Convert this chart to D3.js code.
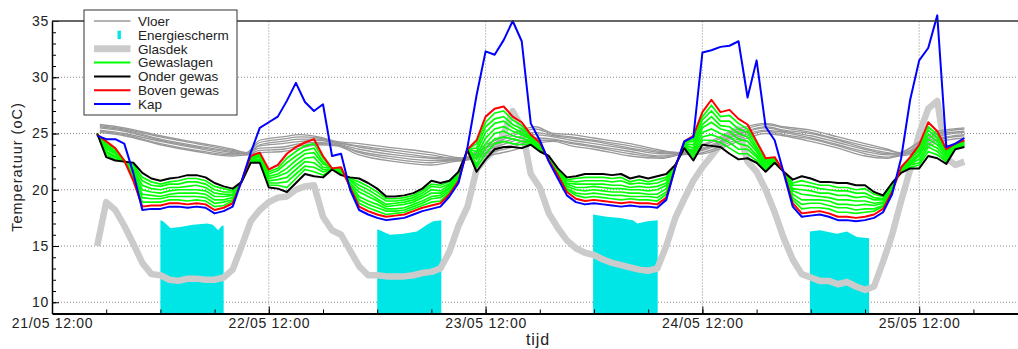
<!doctype html>
<html lang="nl">
<head>
<meta charset="utf-8">
<style>
  body { margin: 0; background: white; }
  svg { display: block; font-family: "Liberation Sans", Arial, sans-serif; }
  .grid line { stroke: #8a8a8a; stroke-width: 1px; stroke-dasharray: 1,2; }
  .tick text { fill: #222; }
</style>
</head>
<body>
<script src="https://d3js.org/d3.v7.min.js"></script>
<script>
// uren na 21/05 12:00, een meting per uur
var uren = d3.range(5, 102);

var onderGewas = [25.0,22.9,22.6,22.5,22.4,21.5,21.0,20.8,21.0,21.1,
  21.3,21.3,21.1,20.6,20.3,20.1,20.7,22.4,22.4,20.2,
  20.1,19.8,20.6,21.4,21.2,21.1,21.8,21.3,21.1,21.0,
  20.6,20.1,19.4,19.4,19.5,19.7,20.1,20.8,20.6,20.8,
  21.6,23.5,21.6,22.7,23.6,23.8,23.8,23.7,24.0,23.4,
  23.0,21.9,21.1,21.2,21.4,21.4,21.4,21.3,21.4,21.0,
  21.2,21.0,21.2,21.4,22.2,23.7,22.6,24.0,23.9,23.8,
  23.2,22.7,22.8,22.4,21.6,22.4,21.6,20.9,21.2,21.0,
  20.7,20.7,20.6,20.6,20.4,20.4,19.8,19.5,20.6,21.5,
  21.9,21.9,23.0,22.8,22.3,23.6,23.8];

var bovenGewas = [24.9,24.3,23.7,22.6,20.8,18.5,18.6,18.6,18.8,18.8,
  18.7,18.8,18.7,18.2,18.4,18.8,20.8,23.0,23.3,21.8,
  22.2,23.2,23.8,24.2,24.5,23.0,21.9,22.0,20.2,18.5,
  18.1,17.8,17.6,17.7,17.8,18.1,18.4,18.6,18.8,19.6,
  20.8,23.6,24.4,26.5,27.2,27.4,26.5,26.0,24.9,24.2,
  22.6,21.3,19.8,19.2,19.0,19.1,19.0,18.9,18.8,18.9,
  18.8,18.8,18.7,19.3,22.0,24.3,24.8,26.9,28.0,26.9,
  27.1,26.3,25.8,24.3,22.8,22.9,21.6,18.8,17.9,18.0,
  18.1,17.9,17.6,17.6,17.5,17.6,17.8,18.3,19.8,22.0,
  22.9,24.0,26.0,25.2,23.6,24.1,24.4];

var kap = [24.8,24.5,24.5,24.1,21.5,18.2,18.3,18.3,18.5,18.5,
  18.4,18.5,18.4,17.9,18.1,18.5,20.8,23.3,25.5,26.0,
  26.5,27.9,29.5,27.8,27.0,27.6,23.0,23.2,20.0,18.2,
  17.8,17.5,17.3,17.4,17.5,17.8,18.1,18.3,18.5,19.4,
  20.6,23.8,28.4,32.3,32.0,33.3,35.0,33.2,25.9,24.4,
  22.5,21.0,19.5,18.9,18.7,18.8,18.7,18.6,18.5,18.6,
  18.5,18.5,18.4,19.1,22.0,24.3,24.7,32.2,32.4,32.7,
  32.8,33.2,28.2,31.5,25.6,24.4,21.5,18.5,17.6,17.7,
  17.8,17.6,17.3,17.3,17.2,17.3,17.5,18.0,19.6,22.8,
  28.0,31.5,32.6,35.5,23.8,24.1,24.6];

var glasdek = [15.0,18.9,18.2,16.8,15.2,13.5,12.5,12.4,12.0,11.9,
  12.1,12.1,12.0,12.0,12.2,12.9,15.0,17.2,18.2,18.9,
  19.3,19.4,20.0,20.3,20.4,17.6,16.4,16.0,14.6,13.2,
  12.4,12.4,12.3,12.3,12.3,12.4,12.6,12.7,13.0,14.5,
  16.8,18.5,21.8,22.8,23.5,25.0,27.0,25.5,21.4,20.2,
  17.9,16.6,15.5,14.8,14.4,14.2,13.8,13.5,13.3,13.1,
  12.9,12.8,13.0,15.0,17.5,19.2,20.8,22.0,23.0,24.0,
  25.0,25.4,22.5,21.6,20.0,18.0,15.7,13.8,12.5,12.2,
  11.9,11.9,11.6,11.8,11.4,11.1,11.4,13.6,16.0,19.0,
  21.8,25.0,27.2,27.9,22.8,22.2,22.5];

// gewaslagen, van onder naar boven
var gewas1 = [25.0,23.1,22.7,22.5,22.2,21.1,20.7,20.5,20.7,20.8,
  21.0,21.0,20.8,20.3,20.1,19.9,20.7,22.5,22.5,20.4,
  20.4,20.2,21.0,21.8,21.6,21.3,21.8,21.4,21.0,20.7,
  20.3,19.8,19.2,19.2,19.3,19.5,19.9,20.5,20.4,20.7,
  21.5,23.5,22.0,23.2,24.1,24.3,24.1,24.0,24.1,23.5,
  23.0,21.8,20.9,21.0,21.1,21.1,21.1,21.0,21.1,20.7,
  20.9,20.7,20.9,21.1,22.2,23.8,22.9,24.4,24.4,24.2,
  23.7,23.2,23.2,22.6,21.8,22.5,21.6,20.6,20.8,20.6,
  20.4,20.4,20.2,20.2,20.0,20.1,19.6,19.4,20.5,21.6,
  22.0,22.2,23.4,23.1,22.5,23.7,23.9];
var gewas2 = [25.0,23.3,22.9,22.5,22.0,20.8,20.4,20.3,20.5,20.5,
  20.7,20.7,20.5,20.0,19.8,19.8,20.7,22.6,22.6,20.6,
  20.6,20.7,21.4,22.1,22.0,21.6,21.8,21.5,20.9,20.4,
  20.0,19.5,19.0,19.0,19.1,19.3,19.7,20.3,20.2,20.5,
  21.4,23.5,22.3,23.7,24.5,24.7,24.5,24.3,24.2,23.6,
  22.9,21.8,20.8,20.7,20.8,20.8,20.8,20.7,20.8,20.5,
  20.6,20.5,20.6,20.9,22.2,23.9,23.2,24.7,24.9,24.6,
  24.2,23.6,23.6,22.9,21.9,22.5,21.6,20.4,20.4,20.3,
  20.1,20.0,19.9,19.9,19.7,19.7,19.3,19.2,20.4,21.6,
  22.2,22.4,23.8,23.4,22.6,23.7,24.0];
var gewas3 = [25.0,23.4,23.0,22.5,21.8,20.4,20.1,20.0,20.2,20.2,
  20.3,20.4,20.2,19.7,19.6,19.6,20.7,22.6,22.7,20.8,
  20.9,21.1,21.8,22.5,22.4,21.8,21.8,21.6,20.8,20.1,
  19.7,19.2,18.7,18.8,18.9,19.1,19.5,20.0,19.9,20.4,
  21.3,23.5,22.7,24.1,25.0,25.2,24.8,24.6,24.3,23.7,
  22.9,21.7,20.6,20.5,20.5,20.5,20.5,20.4,20.4,20.2,
  20.3,20.2,20.3,20.6,22.1,23.9,23.4,25.1,25.4,25.0,
  24.7,24.1,23.9,23.1,22.1,22.6,21.6,20.1,20.0,19.9,
  19.7,19.7,19.5,19.5,19.3,19.4,19.1,19.1,20.3,21.7,
  22.3,22.7,24.1,23.7,22.8,23.8,24.0];
var gewas4 = [25.0,23.6,23.2,22.6,21.6,20.0,19.8,19.7,19.9,20.0,
  20.0,20.0,19.9,19.4,19.4,19.5,20.8,22.7,22.9,21.0,
  21.2,21.5,22.2,22.8,22.9,22.0,21.9,21.6,20.6,19.8,
  19.4,19.0,18.5,18.6,18.7,18.9,19.3,19.7,19.7,20.2,
  21.2,23.6,23.0,24.6,25.4,25.6,25.2,24.9,24.5,23.8,
  22.8,21.6,20.5,20.2,20.2,20.3,20.2,20.1,20.1,20.0,
  20.0,19.9,20.0,20.4,22.1,24.0,23.7,25.5,26.0,25.4,
  25.2,24.5,24.3,23.4,22.2,22.7,21.6,19.9,19.6,19.5,
  19.4,19.3,19.1,19.1,19.0,19.0,18.8,18.9,20.2,21.8,
  22.4,23.0,24.5,24.0,23.0,23.9,24.1];
var gewas5 = [24.9,23.8,23.3,22.6,21.4,19.6,19.5,19.4,19.6,19.7,
  19.7,19.7,19.6,19.1,19.1,19.3,20.8,22.8,23.0,21.2,
  21.4,21.9,22.6,23.2,23.3,22.3,21.9,21.7,20.5,19.4,
  19.0,18.7,18.3,18.3,18.4,18.7,19.0,19.4,19.5,20.1,
  21.1,23.6,23.4,25.1,25.9,26.1,25.5,25.1,24.6,23.9,
  22.8,21.5,20.3,20.0,19.9,20.0,19.9,19.8,19.8,19.7,
  19.7,19.6,19.6,20.1,22.1,24.1,24.0,25.8,26.5,25.7,
  25.6,25.0,24.7,23.6,22.4,22.7,21.6,19.6,19.1,19.1,
  19.1,19.0,18.7,18.7,18.6,18.7,18.6,18.8,20.1,21.8,
  22.5,23.2,24.9,24.3,23.1,23.9,24.2];
var gewas6 = [24.9,24.0,23.4,22.6,21.2,19.3,19.2,19.2,19.4,19.4,
  19.4,19.4,19.3,18.8,18.9,19.1,20.8,22.9,23.1,21.4,
  21.7,22.4,23.0,23.5,23.7,22.5,21.9,21.8,20.4,19.1,
  18.7,18.4,18.1,18.1,18.2,18.5,18.8,19.2,19.3,19.9,
  21.0,23.6,23.7,25.6,26.3,26.5,25.8,25.4,24.7,24.0,
  22.7,21.5,20.1,19.7,19.6,19.7,19.6,19.5,19.5,19.4,
  19.4,19.4,19.3,19.8,22.1,24.2,24.3,26.2,27.0,26.1,
  26.1,25.4,25.1,23.8,22.5,22.8,21.6,19.3,18.7,18.8,
  18.8,18.6,18.4,18.4,18.2,18.3,18.3,18.6,20.0,21.9,
  22.7,23.5,25.3,24.6,23.3,24.0,24.3];
var gewas7 = [24.9,24.1,23.6,22.6,21.0,18.9,18.9,18.9,19.1,19.1,
  19.0,19.1,19.0,18.5,18.6,19.0,20.8,22.9,23.2,21.6,
  21.9,22.8,23.4,23.9,24.1,22.8,21.9,21.9,20.3,18.8,
  18.4,18.1,17.8,17.9,18.0,18.3,18.6,18.9,19.0,19.8,
  20.9,23.6,24.1,26.0,26.8,27.0,26.2,25.7,24.8,24.1,
  22.7,21.4,20.0,19.5,19.3,19.4,19.3,19.2,19.1,19.2,
  19.1,19.1,19.0,19.6,22.0,24.2,24.5,26.5,27.5,26.5,
  26.6,25.9,25.4,24.1,22.7,22.8,21.6,19.1,18.3,18.4,
  18.4,18.3,18.0,18.0,17.9,18.0,18.1,18.5,19.9,21.9,
  22.8,23.7,25.6,24.9,23.4,24.0,24.3];

// vloerlagen, eigen meetmomenten (uren na 21/05 12:00)
var vloerUur = [5.3,8,12,16,20,21.5,23,25.5,27.5,29.5,31.5,34,38,42,44.5,45.5,48,51,53.5,
  55.5,57.5,60,64,67.5,69.5,72,76,79,81,84,87,90,92.5,93.8,95.5,98,101];
var vloer1 = [25.1,24.8,24.0,23.4,23.0,23.1,23.3,23.4,23.7,24.0,23.9,23.1,22.5,22.2,22.5,22.6,23.0,23.5,24.1,24.3,23.9,23.6,23.0,22.8,23.1,23.2,24.3,25.0,24.8,24.3,23.7,23.0,22.8,23.0,23.2,24.2,24.6];
var vloer2 = [25.2,24.9,24.1,23.5,23.1,23.1,23.5,23.6,23.9,24.1,24.0,23.3,22.7,22.4,22.6,22.6,23.2,23.8,24.4,24.4,24.1,23.8,23.2,22.9,23.1,23.3,24.5,25.2,24.9,24.5,23.9,23.2,22.9,23.1,23.3,24.4,24.8];
var vloer3 = [25.3,25.0,24.3,23.7,23.2,23.2,23.7,23.8,24.1,24.2,24.0,23.4,22.9,22.6,22.6,22.7,23.3,24.0,24.6,24.5,24.2,23.9,23.4,23.0,23.2,23.5,24.7,25.3,25.1,24.6,24.0,23.4,23.1,23.1,23.5,24.5,24.9];
var vloer4 = [25.5,25.2,24.4,23.8,23.3,23.2,23.9,24.1,24.3,24.4,24.1,23.6,23.1,22.8,22.7,22.7,23.5,24.3,24.9,24.7,24.4,24.1,23.6,23.2,23.2,23.6,24.9,25.5,25.2,24.8,24.2,23.6,23.2,23.2,23.6,24.7,25.1];
var vloer5 = [25.6,25.3,24.5,23.9,23.4,23.2,24.0,24.3,24.5,24.5,24.2,23.8,23.3,22.9,22.8,22.7,23.7,24.5,25.1,24.8,24.6,24.3,23.7,23.3,23.2,23.7,25.0,25.6,25.3,25.0,24.4,23.7,23.3,23.2,23.7,24.9,25.2];
var vloer6 = [25.7,25.4,24.7,24.1,23.5,23.3,24.2,24.5,24.7,24.6,24.2,23.9,23.5,23.1,22.8,22.8,23.8,24.8,25.4,24.9,24.7,24.4,23.9,23.4,23.3,23.9,25.2,25.8,25.5,25.1,24.5,23.9,23.5,23.3,23.9,25.0,25.4];
var vloer7 = [25.8,25.5,24.8,24.2,23.6,23.3,24.4,24.7,24.9,24.7,24.3,24.1,23.7,23.3,22.9,22.8,24.0,25.0,25.6,25.0,24.9,24.6,24.1,23.5,23.3,24.0,25.4,25.9,25.6,25.3,24.7,24.1,23.6,23.3,24.0,25.2,25.5];

// energiescherm dicht: begin/eind van elk blok en de hoogte van de vlakken
var scherm1Uur = [12.0,12.3,13.1,14.2,15.6,17.2,17.8,18.4,18.8,19.0];
var scherm1 = [17.3,17.2,16.6,16.7,16.9,17.0,16.9,16.4,16.8,16.8];
var scherm2Uur = [36.0,36.6,37.4,38.9,40.4,41.5,42.2,43.1];
var scherm2 = [16.5,16.3,16.0,16.1,16.3,16.9,17.2,17.3];
var scherm3Uur = [59.9,61.4,62.9,64.3,64.8,65.9,67.05];
var scherm3 = [17.8,17.6,17.5,17.3,17.0,17.2,17.3];
var scherm4Uur = [83.9,85.0,86.9,88.0,89.1,90.45];
var scherm4 = [16.3,16.4,16.1,16.3,15.8,15.7];

var tijdLabels = ["21/05 12:00", "22/05 12:00", "23/05 12:00", "24/05 12:00", "25/05 12:00"];
var yTicks = [10, 15, 20, 25, 30, 35];
var legendNamen = ["Vloer", "Energiescherm", "Glasdek", "Gewaslagen", "Onder gewas", "Boven gewas", "Kap"];

var width = 1018, height = 349;
var parse = d3.timeParse("%d/%m %H:%M");
var start = parse("21/05 12:00");
var einde = parse("26/05 00:00");
function tijd(h) { return new Date(+start + h * 36e5); }

var x = d3.scaleTime().domain([start, einde]).range([52, 1027.6]);
var y = d3.scaleLinear().domain([9, 35]).range([313.5, 21]);

var svg = d3.select("body").append("svg")
  .attr("width", width)
  .attr("height", height);

// grid
var grid = svg.append("g").attr("class", "grid");
grid.selectAll(".h").data([10, 15, 20, 25, 30]).enter().append("line")
  .attr("x1", 52).attr("x2", 1027.6)
  .attr("y1", function(d) { return y(d); }).attr("y2", function(d) { return y(d); });
grid.selectAll(".v").data(tijdLabels.slice(1)).enter().append("line")
  .attr("x1", function(d) { return x(parse(d)); }).attr("x2", function(d) { return x(parse(d)); })
  .attr("y1", y(9)).attr("y2", y(35));

function lijn(uurArr) {
  return d3.line()
    .x(function(d, i) { return x(tijd(uurArr[i])); })
    .y(function(d) { return y(d); });
}

// energiescherm
var blokken = [[scherm1Uur, scherm1], [scherm2Uur, scherm2], [scherm3Uur, scherm3], [scherm4Uur, scherm4]];
blokken.forEach(function(b) {
  var area = d3.area()
    .x(function(d, i) { return x(tijd(b[0][i])); })
    .y0(y(9))
    .y1(function(d) { return y(d); });
  svg.append("path").attr("d", area(b[1])).attr("fill", "#00e6e6");
});

// glasdek
svg.append("path").attr("d", lijn(uren)(glasdek))
  .attr("fill", "none").attr("stroke", "#cbcbcb").attr("stroke-width", 6.5)
  .attr("stroke-linejoin", "round");

// vloer
var vloerLijn = lijn(vloerUur).curve(d3.curveMonotoneX);
[vloer1, vloer2, vloer3, vloer4, vloer5, vloer6, vloer7].forEach(function(s) {
  svg.append("path").attr("d", vloerLijn(s))
    .attr("fill", "none").attr("stroke", "#999").attr("stroke-width", 1.3);
});

// gewaslagen
[gewas1, gewas2, gewas3, gewas4, gewas5, gewas6, gewas7].forEach(function(s) {
  svg.append("path").attr("d", lijn(uren)(s))
    .attr("fill", "none").attr("stroke", "#00ff00").attr("stroke-width", 1.7);
});

[[onderGewas, "#000"], [bovenGewas, "#ff0000"], [kap, "#0000ff"]].forEach(function(s) {
  svg.append("path").attr("d", lijn(uren)(s[0]))
    .attr("fill", "none").attr("stroke", s[1]).attr("stroke-width", 2)
    .attr("stroke-linejoin", "round");
});

// assen
var xMinor = svg.append("g").attr("transform", "translate(0," + y(9) + ")")
  .call(d3.axisBottom(x).ticks(d3.timeHour.every(6)).tickSize(-4).tickSizeOuter(0).tickFormat(""));
xMinor.select(".domain").remove();

var xAxis = svg.append("g").attr("transform", "translate(0," + y(9) + ")")
  .call(d3.axisBottom(x).tickValues(tijdLabels.map(parse)).tickSize(-7).tickSizeOuter(0)
    .tickPadding(5).tickFormat(d3.timeFormat("%d/%m %H:%M")));
xAxis.select(".domain").attr("stroke-width", 2);
xAxis.selectAll("text").attr("font-size", 14).style("letter-spacing", "0.7px")
  .attr("font-family", "Liberation Sans, Arial, sans-serif");

var yMinor = svg.append("g").attr("transform", "translate(52,0)")
  .call(d3.axisLeft(y).tickValues(d3.range(10, 36)).tickSize(-4).tickSizeOuter(0).tickFormat(""));
yMinor.select(".domain").remove();

var yAxis = svg.append("g").attr("transform", "translate(52,0)")
  .call(d3.axisLeft(y).tickValues(yTicks).tickSize(-7).tickSizeOuter(0).tickPadding(3));
yAxis.select(".domain").attr("stroke-width", 1.5);
yAxis.selectAll("text").attr("font-size", 14).style("letter-spacing", "0.7px")
  .attr("font-family", "Liberation Sans, Arial, sans-serif");

// bovenrand
svg.append("line").attr("x1", 52).attr("x2", 1027.6).attr("y1", y(35)).attr("y2", y(35))
  .attr("stroke", "#333").attr("stroke-width", 1.6);

svg.append("text").attr("transform", "translate(22,167) rotate(-90)")
  .attr("text-anchor", "middle").attr("font-size", 14.5).style("letter-spacing", "1px")
  .attr("fill", "#222").text("Temperatuur (oC)");
svg.append("text").attr("x", 538).attr("y", 344.5)
  .attr("text-anchor", "middle").attr("font-size", 16).style("letter-spacing", "0.9px")
  .attr("fill", "#222").text("tijd");

// legenda
var lg = svg.append("g");
lg.append("rect").attr("x", 84).attr("y", 10).attr("width", 153).attr("height", 105)
  .attr("fill", "white").attr("stroke", "#333").attr("stroke-width", 1);
var stijlen = [
  {kleur: "#999", breedte: 1.5},
  null,
  {kleur: "#cbcbcb", breedte: 7},
  {kleur: "#00ff00", breedte: 2},
  {kleur: "#000", breedte: 2},
  {kleur: "#ff0000", breedte: 2},
  {kleur: "#0000ff", breedte: 2}
];
legendNamen.forEach(function(naam, i) {
  var ry = 21 + i * 13.85;
  if (stijlen[i]) {
    lg.append("line").attr("x1", 94).attr("x2", 130.5).attr("y1", ry).attr("y2", ry)
      .attr("stroke", stijlen[i].kleur).attr("stroke-width", stijlen[i].breedte);
  } else {
    lg.append("rect").attr("x", 117.5).attr("y", ry - 4.2).attr("width", 3.4).attr("height", 8.4)
      .attr("fill", "#00e6e6");
  }
  lg.append("text").attr("x", 138).attr("y", ry + 4.8).attr("font-size", 13.5)
    .attr("fill", "#222").text(naam);
});
</script>
</body>
</html>
